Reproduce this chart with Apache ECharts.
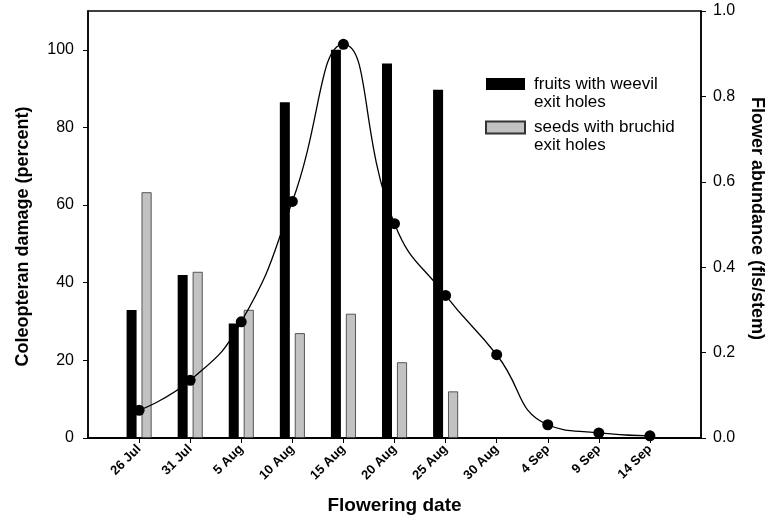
<!DOCTYPE html>
<html>
<head>
<meta charset="utf-8">
<script src="https://cdn.jsdelivr.net/npm/echarts@6/dist/echarts.min.js"></script>
<style>
html,body{margin:0;padding:0;background:#fff;}
#chart{width:778px;height:525px;}
</style>
</head>
<body>
<div id="chart"></div>
<script>
// ---- data ----
var dateLabels = ['26 Jul','31 Jul','5 Aug','10 Aug','15 Aug','20 Aug','25 Aug','30 Aug','4 Sep','9 Sep','14 Sep'];
var seriesNames = ['fruits with weevil\nexit holes', 'seeds with bruchid\nexit holes', 'Flower abundance'];
var weevilFruits = [33, 42, 29.5, 86.5, 100, 96.5, 89.7, null, null, null, null];
var bruchidSeeds = [63.3, 42.8, 33, 27, 32, 19.5, 12, null, null, null, null];
var flowerAbundance = [0.065, 0.135, 0.272, 0.554, 0.922, 0.502, 0.334, 0.195, 0.031, 0.012, 0.005];
var leftTicks = [0, 20, 40, 60, 80, 100];
var rightTicks = [0, 0.2, 0.4, 0.6, 0.8, 1.0];

// pad categories with unlabeled axis ends
var categories = [''].concat(dateLabels).concat(['']);
function pad(a){ return [null].concat(a).concat([null]); }

var FONT = "'Liberation Sans', Arial, sans-serif";
var chart = echarts.init(document.getElementById('chart'), null, {renderer:'canvas'});
chart.setOption({
  animation: false,
  backgroundColor: '#fff',
  grid: { left: 88, right: 77, top: 11, bottom: 87, show: true, borderColor: '#000', borderWidth: 1.5, backgroundColor: 'transparent' },
  legend: {
    orient: 'vertical', left: 485, top: 57, padding: 0,
    itemWidth: 39, itemHeight: 12, itemGap: -10.5, icon: 'rect',
    data: [seriesNames[0], seriesNames[1]],
    formatter: function(n){ return '\n' + n; },
    textStyle: { fontFamily: FONT, fontSize: 17, lineHeight: 18, color: '#000', padding: [0,0,0,4] },
    selectedMode: false
  },
  xAxis: {
    type: 'category', data: categories, boundaryGap: false,
    axisLine: { lineStyle: { color: '#000', width: 2 } },
    axisTick: { show: true, length: 5, inside: false, lineStyle: { color: '#000', width: 1 },
      interval: function(i){ return i > 0 && i < categories.length - 1; } },
    axisLabel: { rotate: 45, margin: 9, fontFamily: FONT, fontWeight: 'bold', fontSize: 13, color: '#000',
      interval: function(i){ return i > 0 && i < categories.length - 1; } },
    name: 'Flowering date', nameLocation: 'middle', nameGap: 58,
    nameTextStyle: { fontFamily: FONT, fontWeight: 'bold', fontSize: 19, color: '#000' },
    splitLine: { show: false }
  },
  yAxis: [
    {
      type: 'value', min: 0, max: 110, interval: 20, position: 'left',
      axisLine: { show: true, lineStyle: { color: '#000', width: 1.5 } },
      axisTick: { show: true, length: 5, customValues: leftTicks, lineStyle: { color: '#000' } },
      axisLabel: { customValues: leftTicks, fontFamily: FONT, fontSize: 16, color: '#000', margin: 14 },
      splitLine: { show: false },
      name: 'Coleopteran damage (percent)', nameLocation: 'middle', nameGap: 56, nameRotate: 90,
      nameTextStyle: { fontFamily: FONT, fontWeight: 'bold', fontSize: 18, color: '#000', padding: [0,0,0,-24] }
    },
    {
      type: 'value', min: 0, max: 1, interval: 0.2, position: 'right',
      axisLine: { show: true, lineStyle: { color: '#000', width: 1.5 } },
      axisTick: { show: true, length: 5, customValues: rightTicks, lineStyle: { color: '#000' } },
      axisLabel: { customValues: rightTicks, fontFamily: FONT, fontSize: 16, color: '#000', margin: 12,
        formatter: function(v){ return v.toFixed(1); } },
      splitLine: { show: false },
      name: 'Flower abundance (fls/stem)', nameLocation: 'middle', nameGap: 47, nameRotate: -90,
      nameTextStyle: { fontFamily: FONT, fontWeight: 'bold', fontSize: 18, color: '#000', padding: [0,0,0,-12] }
    }
  ],
  series: [
    {
      name: seriesNames[0], type: 'bar', yAxisIndex: 0, data: pad(weevilFruits),
      barWidth: 10, barGap: '50%',
      itemStyle: { color: '#000' }, z: 2
    },
    {
      name: seriesNames[1], type: 'bar', yAxisIndex: 0, data: pad(bruchidSeeds),
      barWidth: 10, barGap: '50%',
      itemStyle: { color: '#c2c2c2', borderColor: '#333', borderWidth: 0.8 }, z: 2
    },
    {
      name: seriesNames[2], type: 'line', yAxisIndex: 1, data: pad(flowerAbundance),
      smooth: 0.5, connectNulls: false, symbol: 'circle', symbolSize: 11,
      lineStyle: { color: '#000', width: 1.3 }, itemStyle: { color: '#000' }, z: 5
    }
  ]
});
</script>
</body>
</html>
